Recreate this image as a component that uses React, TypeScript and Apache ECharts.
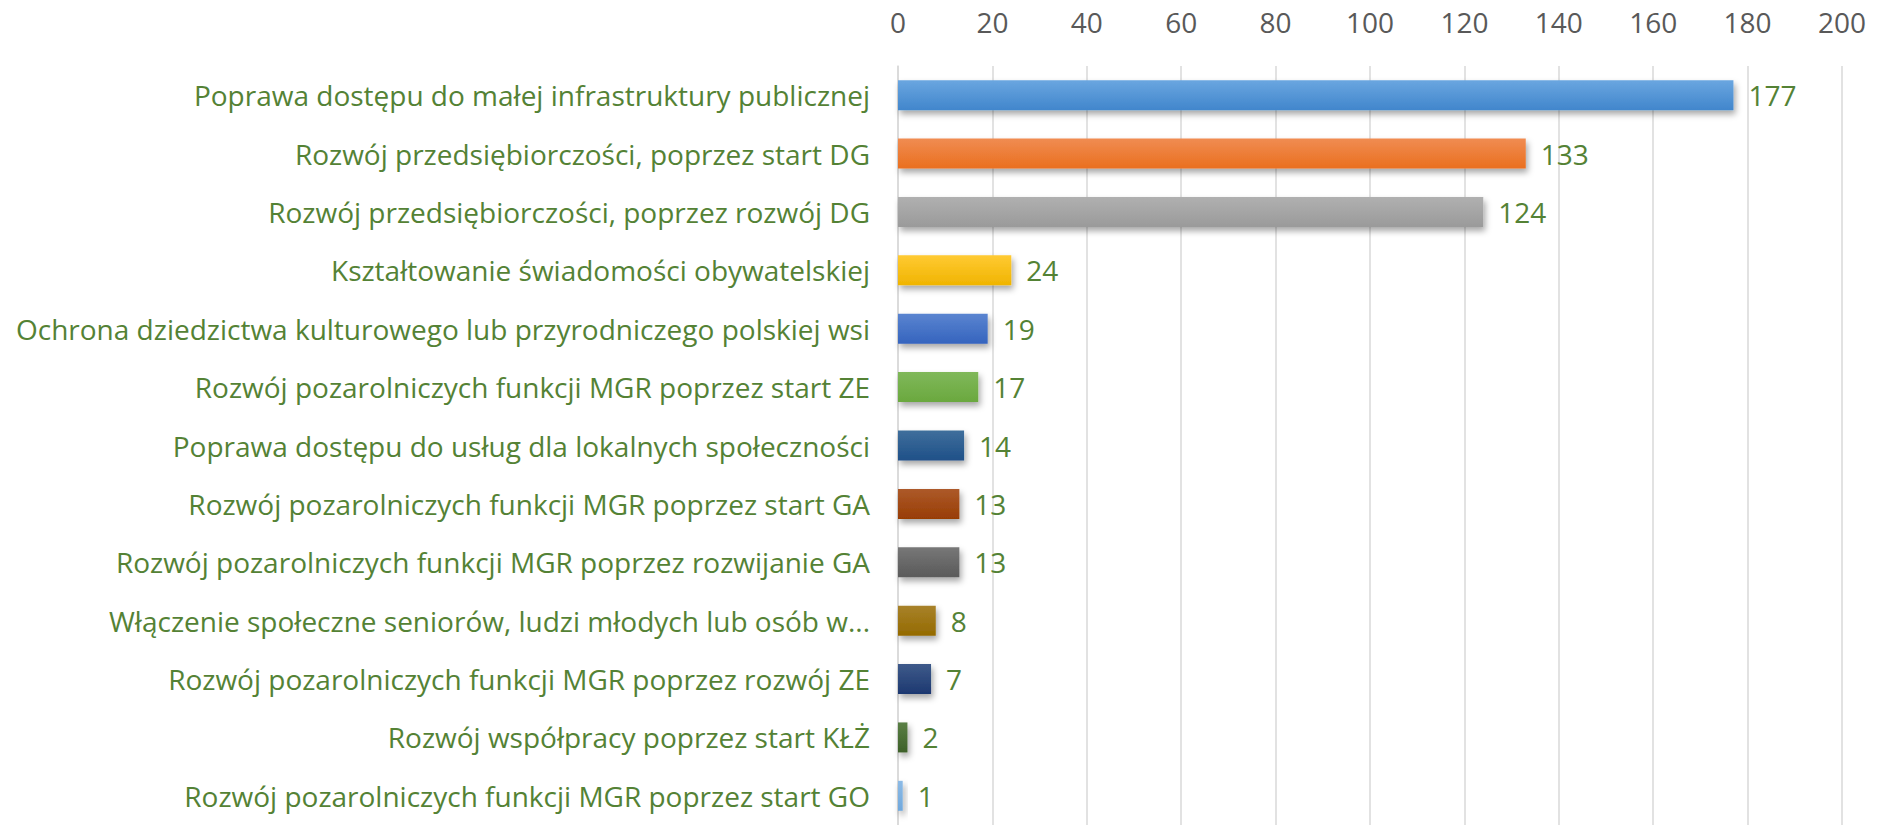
import React, { useEffect, useRef } from "react";
import * as echarts from "echarts";

const categories = [
  "Poprawa dostępu do małej infrastruktury publicznej",
  "Rozwój przedsiębiorczości, poprzez start DG",
  "Rozwój przedsiębiorczości, poprzez rozwój DG",
  "Kształtowanie świadomości obywatelskiej",
  "Ochrona dziedzictwa kulturowego lub przyrodniczego polskiej wsi",
  "Rozwój pozarolniczych funkcji MGR poprzez start ZE",
  "Poprawa dostępu do usług dla lokalnych społeczności",
  "Rozwój pozarolniczych funkcji MGR poprzez start GA",
  "Rozwój pozarolniczych funkcji MGR poprzez rozwijanie GA",
  "Włączenie społeczne seniorów, ludzi młodych lub osób w...",
  "Rozwój pozarolniczych funkcji MGR poprzez rozwój ZE",
  "Rozwój współpracy poprzez start KŁŻ",
  "Rozwój pozarolniczych funkcji MGR poprzez start GO",
];

const values = [177, 133, 124, 24, 19, 17, 14, 13, 13, 8, 7, 2, 1];

const topColors = [
  "#6aa6e0", "#f08c52", "#b0b0b0", "#ffca33", "#5a84d0", "#80b85a", "#3f6f9c",
  "#ad5a2a", "#777777", "#a8822a", "#3e5a8a", "#5a7f45", "#8dbbe6",
];
const bottomColors = [
  "#4186cc", "#ea6f1e", "#9a9a9a", "#f0b400", "#3564be", "#6aa83e", "#1f5088",
  "#983d05", "#5a5a5a", "#946a00", "#1d3870", "#3d6028", "#6fa8dd",
];

const tickValues = [0, 20, 40, 60, 80, 100, 120, 140, 160, 180, 200];

export default function App() {
  const ref = useRef<HTMLDivElement>(null);
  useEffect(() => {
    document.body.style.margin = "0";
    const chart = echarts.init(ref.current!, null, { renderer: "svg" });
    chart.setOption({
      animation: false,
      backgroundColor: "#ffffff",
      grid: { left: 898, top: 66, width: 944, height: 772, containLabel: false },
      xAxis: {
        type: "value",
        position: "top",
        min: tickValues[0],
        max: tickValues[tickValues.length - 1],
        interval: 20,
        axisLine: { show: false },
        axisTick: { show: false },
        axisLabel: {
          color: "#595959",
          fontFamily: "Open Sans",
          fontSize: 28,
          margin: 30,
        },
        splitLine: { show: true, lineStyle: { color: "#d9d9d9", width: 1.5 } },
      },
      yAxis: {
        type: "category",
        inverse: true,
        data: categories,
        axisLine: { show: true, lineStyle: { color: "#d9d9d9", width: 1.5 } },
        axisTick: { show: false },
        axisLabel: {
          color: "#548235",
          fontFamily: "Open Sans",
          fontSize: 28,
          margin: 28,
        },
      },
      series: [
        {
          type: "bar",
          barWidth: 30,
          data: values.map((v, i) => ({
            value: v,
            itemStyle: {
              color: new echarts.graphic.LinearGradient(0, 0, 0, 1, [
                { offset: 0, color: topColors[i] },
                { offset: 1, color: bottomColors[i] },
              ]),
              shadowBlur: 6,
              shadowOffsetX: 2,
              shadowOffsetY: 4,
              shadowColor: "rgba(0,0,0,0.35)",
            },
          })),
          label: {
            show: true,
            position: "right",
            distance: 15,
            color: "#548235",
            fontFamily: "Open Sans",
            fontSize: 28,
          },
        },
      ],
    });
    return () => chart.dispose();
  }, []);
  return <div ref={ref} style={{ width: 1890, height: 825 }} />;
}
